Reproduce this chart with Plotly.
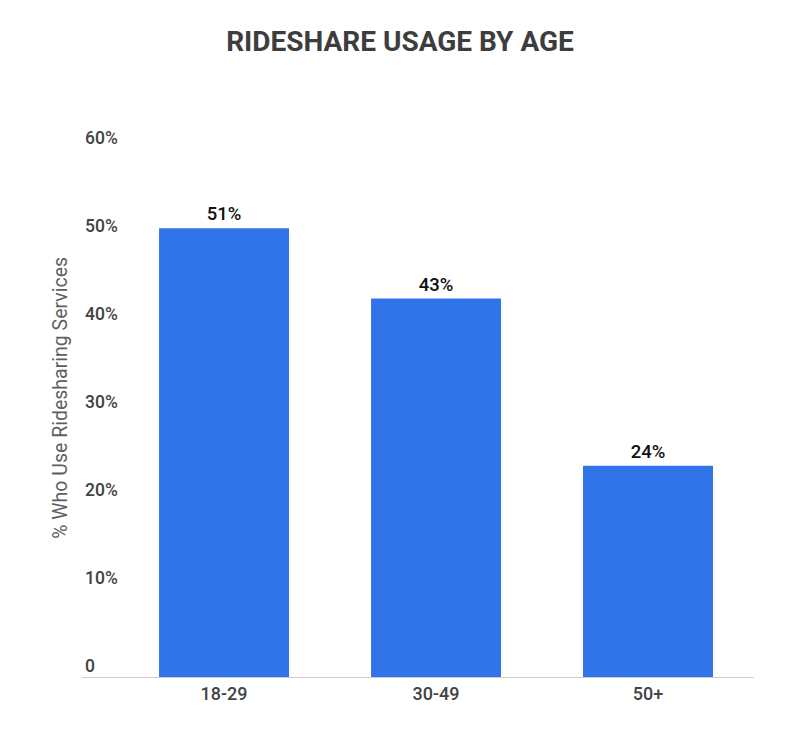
import plotly.graph_objects as go

# data
ages = ["18-29", "30-49", "50+"]
usage = [51, 43, 24]
bar_labels = ["51%", "43%", "24%"]
tick_vals = [0, 10, 20, 30, 40, 50, 60]
tick_text = ["0", "10%", "20%", "30%", "40%", "50%", "60%"]

fig = go.Figure()

fig.add_trace(go.Bar(
    x=ages,
    y=usage,
    text=bar_labels,
    textposition="outside",
    cliponaxis=False,
    textfont=dict(family="Roboto Medium, Roboto", size=18.5, color="#111111"),
    marker=dict(color="#3174EA", line=dict(width=0)),
    width=0.613,
))

fig.update_layout(
    width=799,
    height=731,
    title=dict(
        text="<b>RIDESHARE USAGE BY AGE</b>",
        x=392 / 799, xanchor="center",
        y=1 - 33 / 731, yanchor="middle",
        font=dict(family="Roboto", size=28, color="#3d3d3d"),
    ),
    font=dict(family="Roboto", size=17, color="#444444"),
    plot_bgcolor="white",
    paper_bgcolor="white",
    margin=dict(l=74, r=53, t=141, b=62),
    showlegend=False,
    xaxis=dict(
        type="category",
        range=[-0.67, 2.5],
        showgrid=False,
        showline=True,
        linecolor="#cccccc",
        linewidth=1,
        ticks="",
        tickfont=dict(family="Roboto Medium, Roboto", size=18, color="#444444"),
    ),
    yaxis=dict(
        range=[0, 60],
        tickvals=tick_vals,
        ticktext=tick_text,
        showgrid=False,
        zeroline=False,
        ticks="",
        ticklabelposition="inside",
        ticklabeloverflow="allow",
        ticklabelshift=-11,
        tickfont=dict(family="Roboto Medium, Roboto", size=17.5, color="#444444"),
    ),
)

# y axis title placed as an annotation so it can sit a bit above centre
fig.add_annotation(
    text="% Who Use Ridesharing Services",
    xref="paper", yref="paper",
    x=-0.031, y=0.529,
    xanchor="center", yanchor="middle",
    textangle=-90,
    showarrow=False,
    font=dict(family="Roboto", size=19.5, color="#5f5f5f"),
)

fig.write_html("out.html")
